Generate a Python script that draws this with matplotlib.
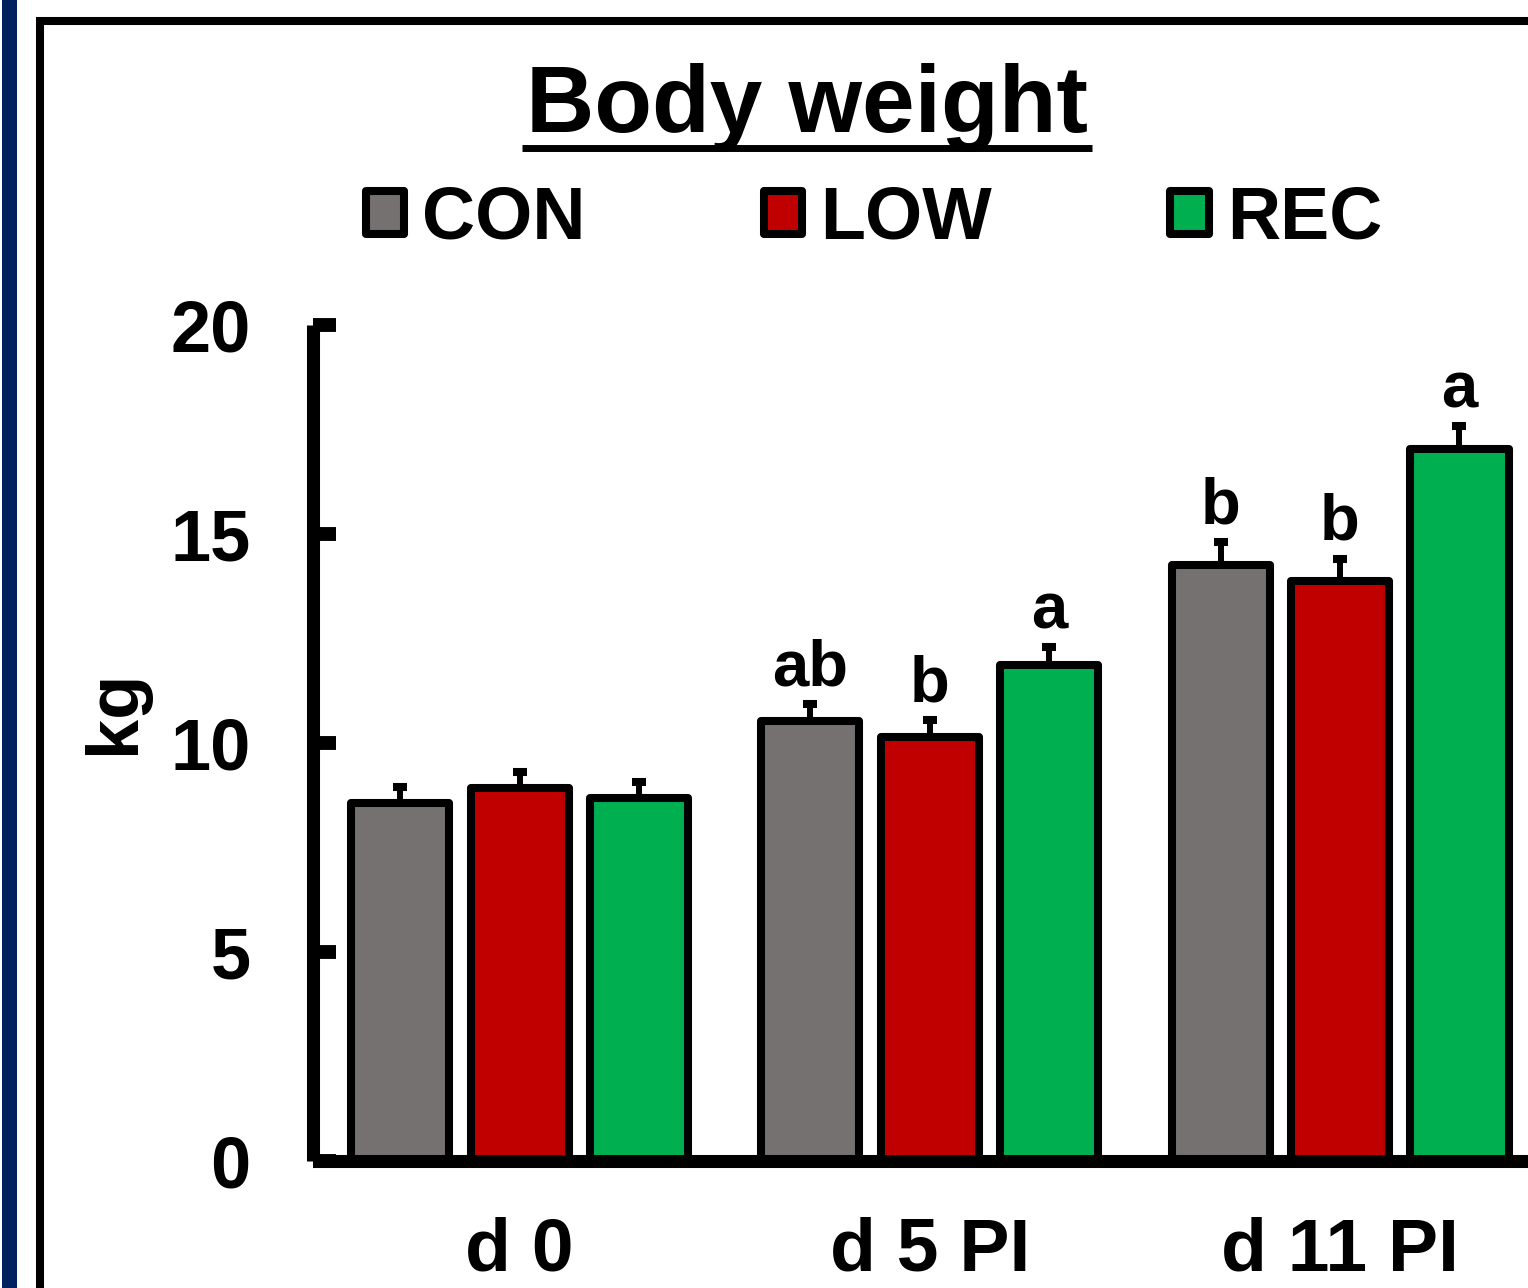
import matplotlib
matplotlib.use("Agg")
import matplotlib.pyplot as plt
import numpy as np
from matplotlib.patches import Rectangle
from matplotlib.lines import Line2D

plt.rcParams['font.family'] = ['Liberation Sans', 'DejaVu Sans']
plt.rcParams['font.weight'] = 'bold'

# ---- data ----
groups = ["d 0", "d 5 PI", "d 11 PI"]
series = ["CON", "LOW", "REC"]
colors = ["#767171", "#C00000", "#00B050"]
con_vals = [8.56, 10.53, 14.26]
low_vals = [8.92, 10.14, 13.88]
rec_vals = [8.68, 11.87, 17.03]
con_err = [0.39, 0.40, 0.55]
low_err = [0.38, 0.41, 0.53]
rec_err = [0.38, 0.43, 0.55]
con_sig = ["", "ab", "b"]
low_sig = ["", "b", "b"]
rec_sig = ["", "a", "a"]
yticks = [0, 5, 10, 15, 20]

values = [con_vals, low_vals, rec_vals]
errors = [con_err, low_err, rec_err]
sigs = [con_sig, low_sig, rec_sig]

W, H = 1528, 1288
fig = plt.figure(figsize=(W / 100, H / 100), dpi=100)

# decorative frame + navy bar
fig.patches.append(Rectangle((2 / W, 0), 15 / W, 1, transform=fig.transFigure,
                             facecolor="#002060", edgecolor="none"))
fig.patches.append(Rectangle((39.5 / W, -0.1), 2, 1.1 - 21 / H, transform=fig.transFigure,
                             facecolor="none", edgecolor="black", linewidth=5.8))

ax = fig.add_axes([313 / W, (H - 1161) / H, (W - 313) / W, (1161 - 325) / H])
ax.set_facecolor("none")

x = np.arange(len(groups))
step = 0.291
bw = 0.239
handles = []
for i in range(3):
    xs = x + (i - 1) * step
    b = ax.bar(xs, values[i], width=bw, color=colors[i], edgecolor="black",
               linewidth=5.8, joinstyle="round", zorder=2, label=series[i])
    handles.append(b)
    ax.errorbar(xs, values[i], yerr=[np.zeros(3), errors[i]], fmt="none",
                ecolor="black", elinewidth=4.3, capsize=4.7, capthick=5.8, zorder=1.9)
    for xi, v, e, s in zip(xs, values[i], errors[i], sigs[i]):
        if s:
            ax.text(xi, v + e + 0.45, s, ha="center", va="baseline",
                    fontsize=47, fontweight="bold")

ax.set_xlim(-0.5034, 2.458)
ax.set_ylim(0, 20)
ax.set_yticks(yticks)
ax.set_xticks(x)
ax.set_xticklabels(groups)
for sp in ["top", "right"]:
    ax.spines[sp].set_visible(False)
for sp in ["left", "bottom"]:
    ax.spines[sp].set_linewidth(9.4)
    ax.spines[sp].set_capstyle("butt")
ax.tick_params(axis="y", direction="in", length=16.5, width=10, pad=45,
               labelsize=52)
ax.tick_params(axis="x", length=0, pad=40, labelsize=54)
for lab in ax.get_xticklabels() + ax.get_yticklabels():
    lab.set_fontweight("bold")

fig.text(115 / W, 1 - 712 / H, "kg", rotation=90, ha="center", va="center",
         fontsize=52, fontweight="bold")

title = fig.text(807 / W, 1 - 132 / H, "Body weight", ha="center", va="baseline",
                 fontsize=68, fontweight="bold")

leg = fig.legend(handles=handles, labels=series, loc="center",
                 bbox_to_anchor=(874 / W, 1 - 219 / H), ncol=3, frameon=False,
                 fontsize=53, handlelength=0.52, handleheight=0.52,
                 handletextpad=0.25, columnspacing=2.42, borderpad=0)
for t in leg.get_texts():
    t.set_fontweight("bold")
for hp in leg.legend_handles:
    hp.set_joinstyle("round")

fig.canvas.draw()
bb = title.get_window_extent()
yl = 1 - 148 / H
fig.lines.append(Line2D([(bb.x0 - 4) / W, (bb.x1 + 4) / W], [yl, yl],
                        transform=fig.transFigure,
                        color="black", linewidth=5, solid_capstyle="butt"))

fig.savefig("out.png", dpi=100)
